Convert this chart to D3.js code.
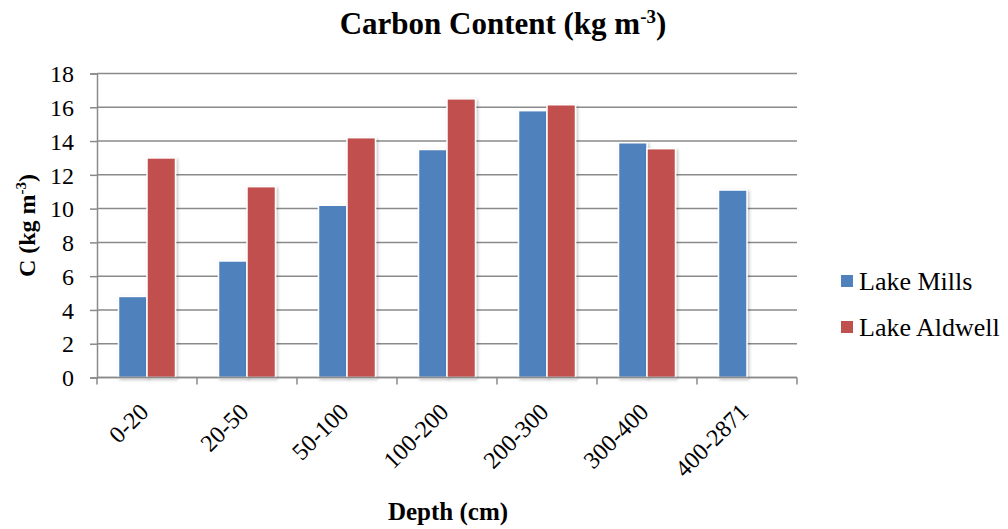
<!DOCTYPE html>
<html>
<head>
<meta charset="utf-8">
<script src="https://cdn.jsdelivr.net/npm/d3@7"></script>
<style>
  body { margin: 0; background: #fff; }
  svg text { font-family: "Liberation Serif", "Times New Roman", "DejaVu Serif", serif !important; fill: #000; }
</style>
</head>
<body>
<div id="chart"></div>
<script>
// chart values
let categories = ["0-20", "20-50", "50-100", "100-200", "200-300", "300-400", "400-2871"];
let lakeMills = [4.8, 6.9, 10.2, 13.5, 15.8, 13.9, 11.1];
let lakeAldwell = [13.0, 11.3, 14.2, 16.5, 16.15, 13.55, null];
let seriesNames = ["Lake Mills", "Lake Aldwell"];
let seriesColors = ["#4F81BD", "#C0504D"];
let yTicks = [0, 2, 4, 6, 8, 10, 12, 14, 16, 18];

let width = 1008, height = 529;
let margin = {top: 73.5, left: 97, right: 211, bottom: 151.5};
let serif = '"Liberation Serif", "Times New Roman", serif';

let svg = d3.select("#chart").append("svg")
    .attr("width", width)
    .attr("height", height)
    .style("font-family", serif);

// soft shadow under the bars
let filter = svg.append("defs").append("filter")
    .attr("id", "shadow")
    .attr("x", "-20%").attr("y", "-5%")
    .attr("width", "150%").attr("height", "115%");
filter.append("feDropShadow")
    .attr("dx", 1.5).attr("dy", 1.5)
    .attr("stdDeviation", 1.5)
    .attr("flood-color", "#000")
    .attr("flood-opacity", 0.25);

let x0 = d3.scaleBand()
    .domain(categories)
    .range([margin.left, width - margin.right])
    .paddingInner(0.43)
    .paddingOuter(0.215);

let x1 = d3.scaleBand()
    .domain([0, 1])
    .range([0, x0.bandwidth()])
    .padding(0);

let y = d3.scaleLinear()
    .domain([0, 18])
    .range([height - margin.bottom, margin.top]);

// gridlines
svg.append("g")
    .selectAll("line")
    .data(yTicks)
    .enter().append("line")
    .attr("x1", margin.left)
    .attr("x2", width - margin.right)
    .attr("y1", d => y(d))
    .attr("y2", d => y(d))
    .attr("stroke", "#8a8a8a")
    .attr("stroke-width", 1.5);

// bars
let data = categories.map((c, i) => ({cat: c, vals: [lakeMills[i], lakeAldwell[i]]}));
let groups = svg.append("g").selectAll("g")
    .data(data)
    .enter().append("g")
    .attr("transform", d => `translate(${x0(d.cat)},0)`);

groups.selectAll("rect")
    .data(d => d.vals.map((v, k) => ({k: k, v: v})).filter(e => e.v != null))
    .enter().append("rect")
    .attr("x", d => x1(d.k))
    .attr("y", d => y(d.v))
    .attr("width", x1.bandwidth())
    .attr("height", d => y(0) - y(d.v))
    .attr("fill", d => seriesColors[d.k])
    .attr("stroke", "#fff")
    .attr("stroke-width", 1.5)
    .attr("filter", "url(#shadow)");

// y axis
let yAxis = d3.axisLeft(y).tickValues(yTicks).tickSize(7).tickPadding(16);
let yg = svg.append("g")
    .attr("transform", `translate(${margin.left},0)`)
    .call(yAxis)
    .attr("font-family", serif);
yg.select(".domain").attr("stroke", "#8a8a8a").attr("stroke-width", 1.5);
yg.selectAll(".tick line").attr("stroke", "#8a8a8a").attr("stroke-width", 1.5);
yg.selectAll(".tick text").style("font-size", "24px").attr("dy", "0.34em");

// x axis
let xTickPos = d3.range(categories.length + 1).map(i => margin.left + i * x0.step());
let xg = svg.append("g");
xg.append("line")
    .attr("x1", margin.left).attr("x2", width - margin.right)
    .attr("y1", y(0)).attr("y2", y(0))
    .attr("stroke", "#8a8a8a").attr("stroke-width", 1.5);
xg.selectAll(".xtick")
    .data(xTickPos)
    .enter().append("line")
    .attr("x1", d => d).attr("x2", d => d)
    .attr("y1", y(0)).attr("y2", y(0) + 7)
    .attr("stroke", "#8a8a8a").attr("stroke-width", 1.5);
xg.selectAll(".xlabel")
    .data(categories)
    .enter().append("text")
    .attr("transform", d => `translate(${x0(d) + x0.bandwidth() / 2 - 9},${y(0) + 24}) rotate(-45)`)
    .attr("text-anchor", "end")
    .attr("dy", "0.7em")
    .style("font-size", "24px")
    .text(d => d);

// title
let title = svg.append("text")
    .attr("x", 503)
    .attr("y", 34)
    .attr("text-anchor", "middle")
    .style("font-size", "31px")
    .style("font-weight", "bold");
title.append("tspan").text("Carbon Content (kg m");
title.append("tspan").attr("dy", -11).style("font-size", "19px").text("-3");
title.append("tspan").attr("dy", 11).text(")");

// y label
let ylab = svg.append("text")
    .attr("transform", `translate(35,${(margin.top + y(0)) / 2}) rotate(-90)`)
    .attr("text-anchor", "middle")
    .style("font-size", "24px")
    .style("font-weight", "bold");
ylab.append("tspan").text("C (kg m");
ylab.append("tspan").attr("dy", -9).style("font-size", "15px").text("-3");
ylab.append("tspan").attr("dy", 9).text(")");

// x label
svg.append("text")
    .attr("x", 448)
    .attr("y", 520)
    .attr("text-anchor", "middle")
    .style("font-size", "25px")
    .style("font-weight", "bold")
    .text("Depth (cm)");

// legend
let legend = svg.append("g").selectAll("g")
    .data(seriesNames)
    .enter().append("g")
    .attr("transform", (d, i) => `translate(841,${281 + i * 46})`);
legend.append("rect")
    .attr("x", 0).attr("y", -6)
    .attr("width", 12).attr("height", 12)
    .attr("fill", (d, i) => seriesColors[i]);
legend.append("text")
    .attr("x", 18)
    .attr("dy", "0.35em")
    .style("font-size", "26px")
    .text(d => d);
</script>
</body>
</html>
